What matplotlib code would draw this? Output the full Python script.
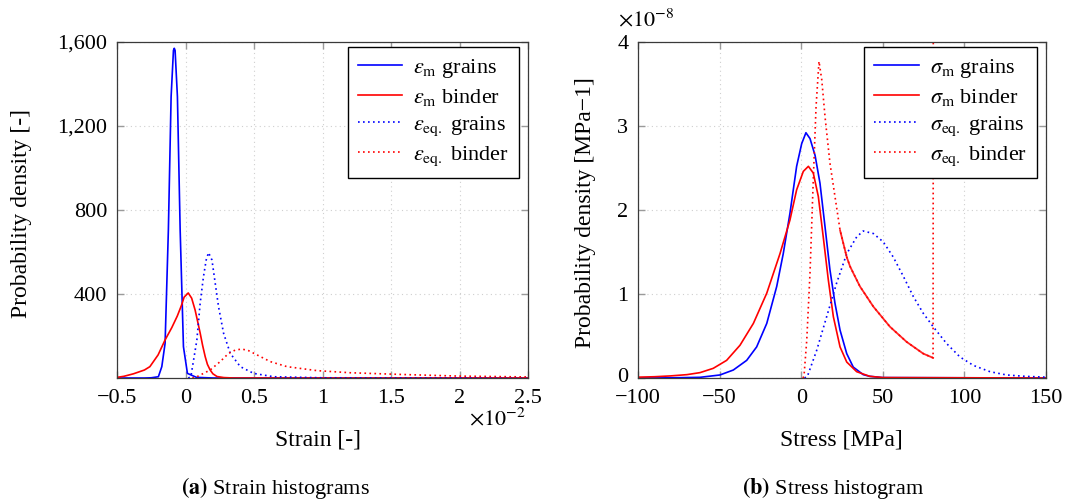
import matplotlib
matplotlib.use("Agg")
import matplotlib.pyplot as plt
import matplotlib.transforms as mtransforms
import numpy as np

# ---------------- data (strain in units of 1e-2) ----------------
strain_m_grains_x = [-0.5, -0.3, -0.25, -0.198, -0.173, -0.149, -0.125, -0.105, -0.088, -0.082, -0.076,
                     -0.059, -0.039, -0.015, 0.014, 0.08, 0.2, 2.5]
strain_m_grains_y = [0, 0, 1, 6, 54, 165, 705, 1340, 1560, 1570, 1560, 1340, 705, 149, 22, 3, 0, 0]

strain_m_binder_x = [-0.5, -0.45, -0.38, -0.3, -0.26, -0.2, -0.15, -0.1, -0.06, -0.03, -0.01, 0.02, 0.045,
                     0.07, 0.09, 0.107, 0.125, 0.144, 0.16, 0.18, 0.2, 0.23, 0.28, 0.35, 2.5]
strain_m_binder_y = [3, 8, 20, 38, 54, 110, 180, 240, 295, 345, 385, 405, 380,
                     324, 265, 214, 155, 101, 65, 38, 20, 7, 2, 0, 0]

strain_eq_grains_x = [0.02, 0.039, 0.071, 0.083, 0.107, 0.131, 0.151, 0.168, 0.193, 0.217, 0.241, 0.278,
                      0.327, 0.4, 0.497, 0.643, 1.0, 2.5]
strain_eq_grains_y = [0, 6, 133, 181, 356, 482, 562, 597, 562, 451, 340, 213,
                      117, 54, 22, 6, 1, 0]

strain_eq_binder_x = [0.05, 0.083, 0.18, 0.253, 0.314, 0.363, 0.412, 0.461, 0.522, 0.619, 0.741, 0.961,
                      1.204, 1.57, 2.0, 2.5]
strain_eq_binder_y = [0, 6, 38, 78, 117, 133, 138, 130, 110, 78, 54, 35,
                      25, 17, 9, 5]

# ---------------- data (stress in MPa, density in units of 1e-8) ----------------
stress_m_grains_x = [-100, -80, -62, -49.8, -41.6, -33.4, -27.3, -21.1, -15, -11, -6.9, -2.8, 0.3, 2.9,
                     5.4, 8.5, 11.5, 14.6, 17.6, 20.7, 23.8, 27.9, 31.9, 38, 42, 50, 150]
stress_m_grains_y = [0, 0.002, 0.008, 0.036, 0.095, 0.21, 0.37, 0.65, 1.09, 1.48, 1.96, 2.52, 2.79, 2.92,
                     2.85, 2.65, 2.32, 1.8, 1.29, 0.89, 0.57, 0.29, 0.13, 0.04, 0.02, 0.005, 0]

stress_m_binder_x = [-100, -90, -80, -70, -62, -53.9, -45.7, -37.5, -29.3, -21.1, -13, -6.9, -2.8, 1.3,
                     4.4, 7.4, 10.5, 13.5, 16.6, 19.7, 23.8, 27.9, 34, 42, 50, 150]
stress_m_binder_y = [0.01, 0.015, 0.025, 0.04, 0.064, 0.115, 0.21, 0.39, 0.65, 1.01, 1.48, 1.88, 2.24, 2.46,
                     2.52, 2.44, 2.16, 1.68, 1.17, 0.73, 0.37, 0.19, 0.075, 0.02, 0.005, 0]

stress_eq_grains_x = [2.0, 3.8, 9.5, 15.6, 21.7, 27.9, 34, 38, 44.2, 50.3, 56.4, 62.6, 68.7, 74.8, 80.9,
                      89.1, 97.3, 105.5, 115.7, 125.9, 137, 150]
stress_eq_grains_y = [0, 0.02, 0.33, 0.73, 1.13, 1.48, 1.68, 1.75, 1.72, 1.62, 1.44, 1.21, 0.97, 0.77, 0.61,
                      0.41, 0.25, 0.15, 0.075, 0.036, 0.02, 0.01]

stress_eq_binder_x = [1.0, 1.7, 3.4, 5.4, 7.4, 9.1, 10.9, 12.6, 14.6, 17.6, 20.7, 23.8, 27.9, 29.9, 31.9,
                      36, 44.2, 54.4, 64.6, 74.8, 80.8, 81.0]
stress_eq_binder_y = [0, 0.02, 0.45, 1.25, 2.36, 3.23, 3.77, 3.55, 3.11, 2.56, 2.16, 1.76, 1.44, 1.33, 1.25,
                      1.09, 0.85, 0.61, 0.43, 0.29, 0.24, 6.0]

strain_xticks = [-0.5, 0, 0.5, 1, 1.5, 2, 2.5]
strain_xticklabels = ["\u22120.5", "0", "0.5", "1", "1.5", "2", "2.5"]
strain_yticks = [400, 800, 1200, 1600]
strain_yticklabels = ["400", "800", "1,200", "1,600"]
stress_xticks = [-100, -50, 0, 50, 100, 150]
stress_xticklabels = ["\u2212100", "\u221250", "0", "50", "100", "150"]
stress_yticks = [0, 1, 2, 3, 4]
stress_yticklabels = ["0", "1", "2", "3", "4"]

# ---------------- style ----------------
plt.rcParams['font.family'] = ['Liberation Serif', 'DejaVu Serif']
plt.rcParams['mathtext.fontset'] = 'stix'
FS = 16
BLUE = '#0000ff'
RED = '#ff0000'
DOT = (0, (1, 2))
LW = 1.2

W, H = 1070, 504
fig = plt.figure(figsize=(W / 100, H / 100), dpi=100)


def axes_px(x0, x1, ytop, ybot):
    return fig.add_axes([x0 / W, 1 - ybot / H, (x1 - x0) / W, (ybot - ytop) / H])


ax1 = axes_px(117, 528, 42, 378)
ax2 = axes_px(638, 1046, 42, 378)

for ax in (ax1, ax2):
    ax.tick_params(direction='in', top=True, right=True, length=5, width=1.0,
                   labelsize=FS, pad=7, color='#9a9a9a')
    ax.tick_params(axis='x', pad=8)
    for s in ax.spines.values():
        s.set_linewidth(0.9)
        s.set_color('#3a3a3a')
    ax.grid(True, linestyle=(0, (1, 3)), color='#cfcfcf', linewidth=0.8)
    ax.set_axisbelow(True)

# left plot
ax1.plot(strain_m_grains_x, strain_m_grains_y, color=BLUE, lw=LW, label=r'$\varepsilon_{\mathrm{m}}$ grains')
ax1.plot(strain_m_binder_x, strain_m_binder_y, color=RED, lw=LW, label=r'$\varepsilon_{\mathrm{m}}$ binder')
ax1.plot(strain_eq_grains_x, strain_eq_grains_y, color=BLUE, lw=LW, ls=DOT, label=r'$\varepsilon_{\mathrm{eq.}}$ grains')
ax1.plot(strain_eq_binder_x, strain_eq_binder_y, color=RED, lw=LW, ls=DOT, label=r'$\varepsilon_{\mathrm{eq.}}$ binder')
ax1.set_xlim(-0.5, 2.5)
ax1.set_ylim(0, 1600)
ax1.set_xticks(strain_xticks)
ax1.set_xticklabels(strain_xticklabels)
ax1.set_yticks(strain_yticks)
ax1.set_yticklabels(strain_yticklabels)

# right plot
ax2.plot(stress_m_grains_x, stress_m_grains_y, color=BLUE, lw=LW, label=r'$\sigma_{\mathrm{m}}$ grains')
ax2.plot(stress_m_binder_x, stress_m_binder_y, color=RED, lw=LW, label=r'$\sigma_{\mathrm{m}}$ binder')
ax2.plot(stress_eq_grains_x, stress_eq_grains_y, color=BLUE, lw=LW, ls=DOT, label=r'$\sigma_{\mathrm{eq.}}$ grains')
ax2.plot(stress_eq_binder_x, stress_eq_binder_y, color=RED, lw=LW, ls=DOT, label=r'$\sigma_{\mathrm{eq.}}$ binder')
# the noisy tail of the binder equivalent stress renders almost solid in the reference
bx = np.array(stress_eq_binder_x)
by = np.array(stress_eq_binder_y)
tail = (bx >= 23) & (bx <= 80.9)
ax2.plot(bx[tail], by[tail], color=RED, lw=1.3, alpha=0.85)
ax2.set_xlim(-100, 150)
ax2.set_ylim(0, 4)
ax2.set_xticks(stress_xticks)
ax2.set_xticklabels(stress_xticklabels)
ax2.set_yticks(stress_yticks)
ax2.set_yticklabels(stress_yticklabels)

# nudge the "0" y label of the stress plot up a little so it clears "-100"
lbl0 = ax2.get_yticklabels()[0]
lbl0.set_transform(lbl0.get_transform() + mtransforms.ScaledTranslation(0, 3 / 100, fig.dpi_scale_trans))

for ax, wpx in ((ax1, 411), (ax2, 408)):
    leg = ax.legend(loc='upper right', bbox_to_anchor=(1 - 9 / wpx, 1 - 5 / 336), borderaxespad=0,
                    fontsize=FS, frameon=True, fancybox=False, handlelength=2.0, handletextpad=0.5,
                    labelspacing=0.3, borderpad=0.45)
    leg.get_frame().set_edgecolor('black')
    leg.get_frame().set_linewidth(1.0)
    leg.get_frame().set_alpha(1)

# labels
fig.text(318 / W, 1 - 440 / H, 'Strain [-]', fontsize=FS + 1, ha='center', va='center')
fig.text(841 / W, 1 - 440 / H, 'Stress [MPa]', fontsize=FS + 1, ha='center', va='center')
fig.text(22 / W, 1 - 213 / H, 'Probability density [-]', fontsize=FS + 1, ha='center', va='center', rotation=90)
fig.text(585 / W, 1 - 213 / H, 'Probability density [MPa\u22121]', fontsize=FS + 1, ha='center', va='center',
         rotation=90)
fig.text(497 / W, 1 - 419 / H, r'$\times10^{-2}$', fontsize=FS, ha='center', va='center')
fig.text(618 / W, 1 - 20 / H, r'$\times10^{-8}$', fontsize=FS, ha='left', va='center')

# captions
fig.text(275 / W, 1 - 488 / H, r'$\mathbf{(a)}$ Strain histograms', fontsize=FS, ha='center', va='center')
fig.text(833 / W, 1 - 488 / H, r'$\mathbf{(b)}$ Stress histogram', fontsize=FS, ha='center', va='center')

fig.savefig('out.png', dpi=100)
